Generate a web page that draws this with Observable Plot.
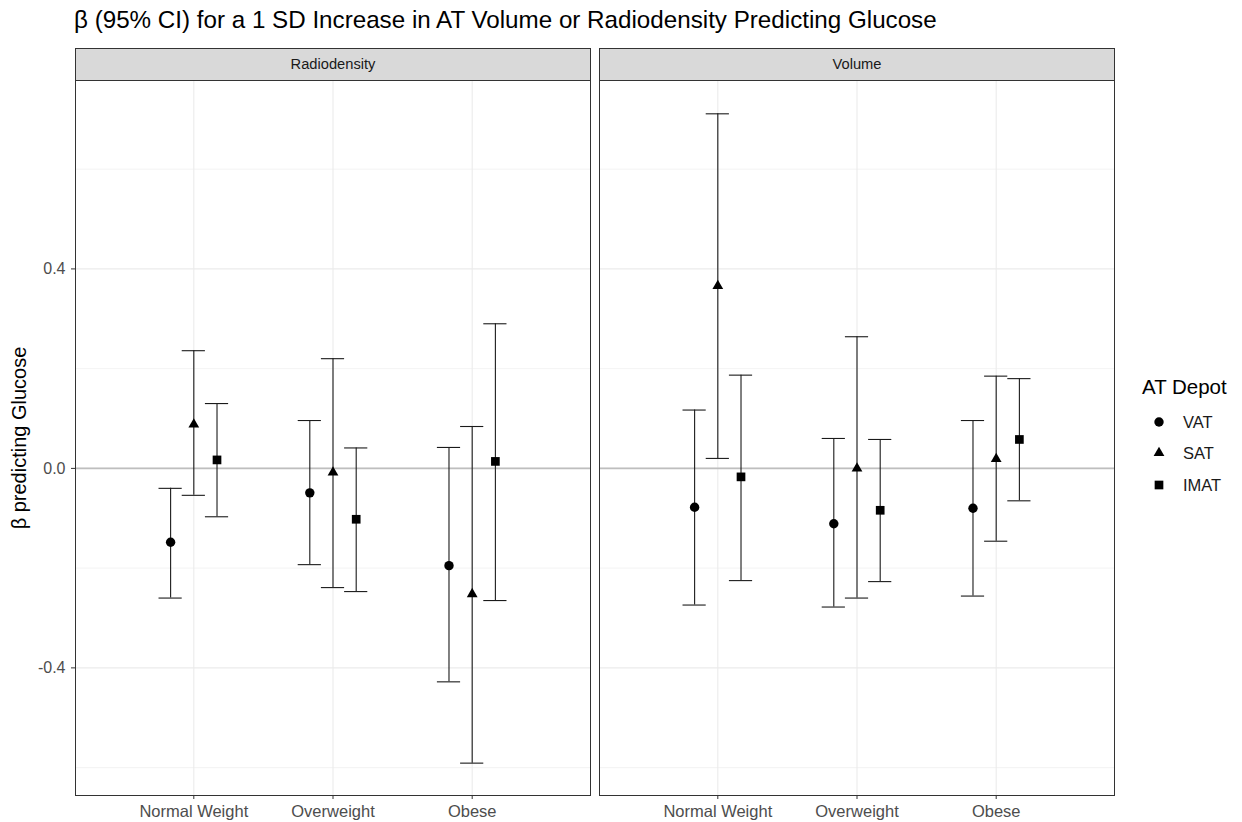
<!DOCTYPE html>
<html><head><meta charset="utf-8">
<script src="https://cdn.jsdelivr.net/npm/d3@7"></script>
<script src="https://cdn.jsdelivr.net/npm/@observablehq/plot@0.6"></script>
<style>
body{margin:0;background:#fff;}
#wrap{position:relative;width:1242px;height:822px;background:#fff;font-family:"Liberation Sans",Arial,sans-serif;}
#title{position:absolute;left:74px;top:6px;font-size:24.2px;line-height:28px;color:#000;white-space:nowrap;}
#chart{position:absolute;left:0;top:48px;}
#legend{position:absolute;left:1136px;top:370px;}
</style></head><body>
<div id="wrap"><div id="title">β (95% CI) for a 1 SD Increase in AT Volume or Radiodensity Predicting Glucose</div><div id="chart"></div><div id="legend"></div></div>
<script>
const facets = ["Radiodensity", "Volume"];
const categories = ["Normal Weight", "Overweight", "Obese"];
const depots = ["VAT", "SAT", "IMAT"];
const yTicks = [-0.4, 0.0, 0.4];
const yMinorTicks = [-0.6, -0.2, 0.2, 0.6];
const yTitle = "β predicting Glucose";
const legendTitle = "AT Depot";

// order: Normal Weight (VAT, SAT, IMAT), Overweight (VAT, SAT, IMAT), Obese (VAT, SAT, IMAT)
const radiodensityEstimate = [-0.148, 0.088, 0.017, -0.049, -0.008, -0.102, -0.195, -0.252, 0.014];
const radiodensityLower    = [-0.260, -0.054, -0.097, -0.193, -0.239, -0.247, -0.428, -0.591, -0.265];
const radiodensityUpper    = [-0.040, 0.236, 0.130, 0.096, 0.220, 0.041, 0.042, 0.084, 0.290];
const volumeEstimate       = [-0.078, 0.366, -0.017, -0.111, 0.000, -0.084, -0.080, 0.019, 0.058];
const volumeLower          = [-0.274, 0.020, -0.225, -0.278, -0.260, -0.227, -0.256, -0.146, -0.065];
const volumeUpper          = [0.117, 0.711, 0.187, 0.060, 0.264, 0.058, 0.096, 0.185, 0.180];

const dodgeWidth = 0.5;
const capHalf = dodgeWidth / 3 / 2;
const symbols = ["circle", "triangle", "square"];
const markerR = {VAT: 4.7, SAT: 4.0, IMAT: 4.9};

const series = {
  Radiodensity: [radiodensityEstimate, radiodensityLower, radiodensityUpper],
  Volume: [volumeEstimate, volumeLower, volumeUpper]
};
const rows = [];
for (const f of facets) {
  const [est, lo, hi] = series[f];
  est.forEach((v, i) => {
    const c = Math.floor(i / 3), k = i % 3;
    rows.push({facet: f, category: categories[c], depot: depots[k],
      x: c + 1 + (k - 1) * dodgeWidth / 3, est: v, lower: lo[i], upper: hi[i]});
  });
}

const chart = Plot.plot({
  width: 1242, height: 774,
  marginTop: 32, marginBottom: 27, marginLeft: 74, marginRight: 128,
  style: {fontFamily: '"Liberation Sans", Arial, sans-serif', fontSize: "15px", background: "white", overflow: "visible"},
  fx: {domain: facets, paddingInner: 0.0172, paddingOuter: 0, axis: null, label: null},
  x: {domain: [0.15, 3.85], label: null},
  y: {domain: [-0.6559, 0.7778], label: null},
  symbol: {domain: depots, range: symbols},
  marks: [
    Plot.gridY(yMinorTicks, {stroke: "#EBEBEB", strokeOpacity: 1, strokeWidth: 0.6}),
    Plot.gridY(yTicks, {stroke: "#EBEBEB", strokeOpacity: 1, strokeWidth: 1.1}),
    Plot.gridX([1, 2, 3], {stroke: "#EBEBEB", strokeOpacity: 1, strokeWidth: 1.1}),
    Plot.ruleY([0], {stroke: "#BEBEBE", strokeWidth: 1.7}),
    Plot.ruleX(rows, {fx: "facet", x: "x", y1: "lower", y2: "upper", stroke: "#1a1a1a", strokeWidth: 1.1}),
    Plot.ruleY(rows, {fx: "facet", y: "upper", x1: d => d.x - capHalf, x2: d => d.x + capHalf, stroke: "#1a1a1a", strokeWidth: 1.1}),
    Plot.ruleY(rows, {fx: "facet", y: "lower", x1: d => d.x - capHalf, x2: d => d.x + capHalf, stroke: "#1a1a1a", strokeWidth: 1.1}),
    ...depots.map(dep => Plot.dot(rows.filter(d => d.depot === dep),
      {fx: "facet", x: "x", y: "est", symbol: "depot", fill: "black", stroke: "none", r: markerR[dep]})),
    Plot.frame({stroke: "#333333", strokeWidth: 1}),
    Plot.frame({fill: "#D9D9D9", stroke: "#333333", strokeWidth: 1, insetTop: -32, insetBottom: 715}),
    Plot.text(facets, {fx: d => d, text: d => d, frameAnchor: "top", dy: -16, lineAnchor: "middle", fontSize: 14.7, fill: "#1A1A1A"}),
    Plot.axisX({ticks: [1, 2, 3], tickFormat: d => categories[d - 1], tickSize: 4, tickPadding: 6, stroke: "#333333", fill: "#4D4D4D", fontSize: 16.5, label: null}),
    Plot.axisY({ticks: yTicks, tickFormat: d => d.toFixed(1), tickSize: 4, tickPadding: 6, stroke: "#333333", fill: "#4D4D4D", fontSize: 16, label: null}),
    Plot.text([facets[0]], {fx: d => d, text: () => yTitle, frameAnchor: "left", textAnchor: "middle", rotate: -90, dx: -56, fontSize: 20, fill: "#000"})
  ]
});
document.getElementById("chart").appendChild(chart);

// legend
const lg = d3.select("#legend").append("svg").attr("width", 106).attr("height", 135)
  .style("font-family", '"Liberation Sans", Arial, sans-serif');
lg.append("text").attr("x", 6).attr("y", 24).attr("font-size", 20.5).attr("fill", "#000").text(legendTitle);
const symTypes = {circle: d3.symbolCircle, triangle: d3.symbolTriangle, square: d3.symbolSquare};
const itemY = [52, 83, 115];
depots.forEach((dep, i) => {
  lg.append("path")
    .attr("transform", `translate(23,${itemY[i]})`)
    .attr("d", d3.symbol(symTypes[symbols[i]], Math.PI * markerR[dep] * markerR[dep])())
    .attr("fill", "black");
  lg.append("text").attr("x", 47).attr("y", itemY[i]).attr("dy", "0.35em")
    .attr("font-size", 16.5).attr("fill", "#1A1A1A").text(dep);
});
</script>
</body></html>
